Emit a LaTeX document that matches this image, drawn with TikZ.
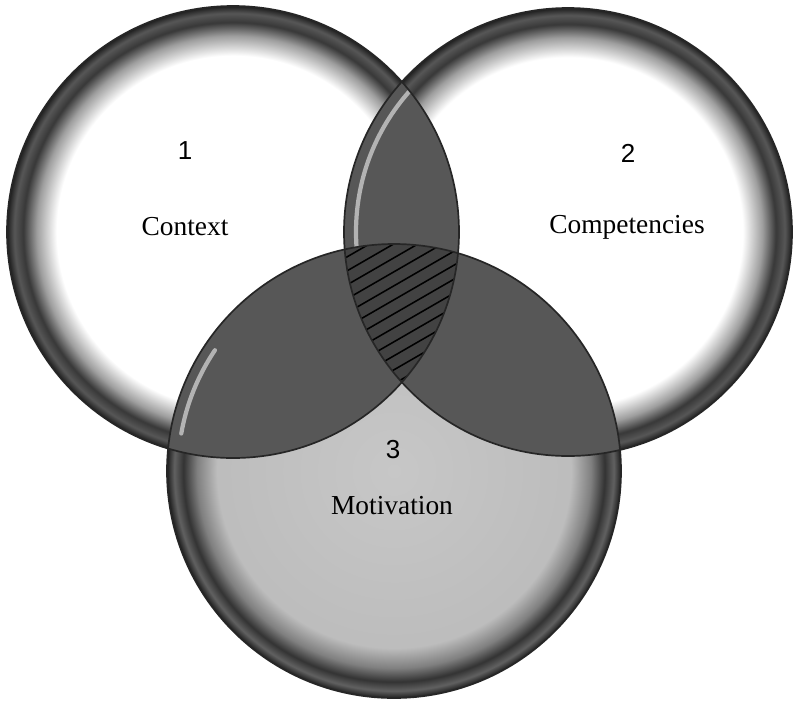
\documentclass[tikz,border=0pt]{standalone}
\usepackage{fontspec}
\setmainfont{Liberation Serif}
\newfontfamily\numfont{Liberation Sans}
\usetikzlibrary{positioning}

\pgfdeclareradialshading{rimwhite}{\pgfpoint{0bp}{0bp}}{color(0bp)=(white); color(19.5bp)=(white);
  color(21.7bp)=(black!38); color(23.2bp)=(black!78); color(24.2bp)=(black!66);
  color(25bp)=(black!88); color(50bp)=(black!88)}
\pgfdeclareradialshading{rimgrey}{\pgfpoint{0bp}{0bp}}{color(0bp)=(black!22); color(19.5bp)=(black!26);
  color(21.7bp)=(black!50); color(23.2bp)=(black!80); color(24.2bp)=(black!62);
  color(25bp)=(black!88); color(50bp)=(black!88)}

\begin{document}
\begin{tikzpicture}[x=0.025cm,y=-0.025cm,
      lens/.style={fill=black!66},
      core/.style={fill=black!74},
      shine/.style={draw=white,line width=3pt,opacity=.55,line cap=round},
      hatch/.style={black,line width=1.1pt},
      edge/.style={draw=black!85,line width=1.2pt},
      word/.style={font=\fontsize{19.5}{22}\selectfont,inner sep=0pt,
                   text height=13pt,text depth=4pt},
      num/.style={font=\numfont\fontsize{18.5}{22}\selectfont,inner sep=0pt,
                  text height=13pt,text depth=0pt}]
    \useasboundingbox[fill=white] (0,0) rectangle (794,700);
    \coordinate (ctxc) at (233,232);
    \coordinate (compc) at (568,232);
    \coordinate (motc) at (394,471);

    \shade[shading=rimwhite] (ctxc) circle[radius=226];
    \shade[shading=rimwhite] (compc) circle[radius=224];
    \begin{scope}
      \clip (ctxc) circle[radius=226];
      \fill[lens] (compc) circle[radius=224];
      \draw[shine] (compc) circle[radius=212];
    \end{scope}
    \draw[edge] (ctxc) circle[radius=226];
    \draw[edge] (compc) circle[radius=224];

    \shade[shading=rimgrey] (motc) circle[radius=227];
    \begin{scope}
      \clip (motc) circle[radius=227];
      \fill[lens] (ctxc) circle[radius=226];
      \fill[lens] (compc) circle[radius=224];
      \draw[shine] (motc) ++(190:216) arc[start angle=190,end angle=214,radius=216];
    \end{scope}
    % centre part with the hatching
    \begin{scope}
      \clip (ctxc) circle[radius=226];
      \clip (compc) circle[radius=224];
      \clip (motc) circle[radius=227];
      \fill[core] (motc) circle[radius=227];
      \foreach \k in {0,...,14}
        \draw[hatch] (300,270+14*\k) -- ++(260,-150);
    \end{scope}
    \draw[edge] (motc) circle[radius=227];
    \begin{scope}
      \clip (motc) circle[radius=227];
      \draw[edge] (ctxc) circle[radius=226];
      \draw[edge] (compc) circle[radius=224];
    \end{scope}

    \node[num] (one) at (185,150) {1};
    \node[word] (context) at (185,229) {Context};
    \node[num] (two) at (628,153) {2};
    \node[word] (competencies) at (627,227) {Competencies};
    \node[num] (three) at (393,449) {3};
    \node[word] (motivation) at (392,508) {Motivation};
  \end{tikzpicture}
\end{document}
